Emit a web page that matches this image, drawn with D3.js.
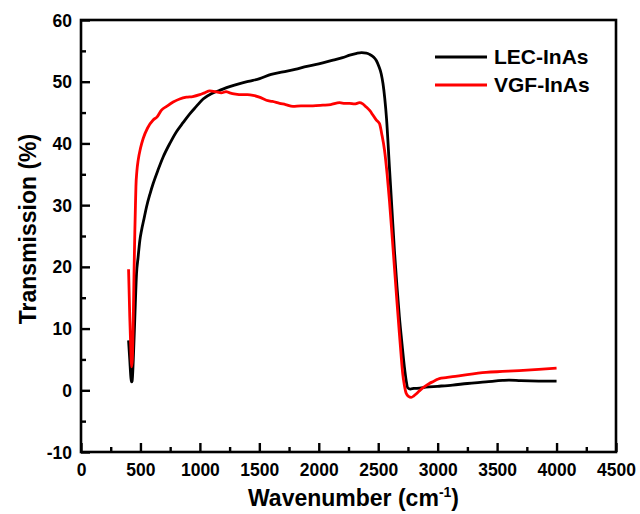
<!DOCTYPE html>
<html>
<head>
<meta charset="utf-8">
<script src="https://cdn.jsdelivr.net/npm/d3@7"></script>
<style>
  body { margin: 0; background: #fff; }
  svg text { font-family: "Liberation Sans", Arial, sans-serif; font-weight: bold; fill: #000; }
</style>
</head>
<body>
<svg id="chart"></svg>
<script>
// Series (wavenumber in cm-1, transmission in %)
var lecWn = [400, 410, 420, 425, 430, 440, 455, 467, 480, 495, 509, 530, 551, 580, 607, 650, 691, 750, 803, 860, 915, 970, 1027, 1100, 1167, 1250, 1335, 1420, 1503, 1600, 1700, 1800, 1900, 2000, 2120, 2200, 2260, 2320, 2360, 2400, 2430, 2460, 2485, 2505, 2525, 2540, 2555, 2570, 2594, 2615, 2636, 2657, 2678, 2700, 2720, 2735, 2748, 2770, 2800, 2850, 2900, 3000, 3126, 3250, 3406, 3546, 3600, 3700, 3850, 4000];
var lecT = [8.1, 5, 2, 1.35, 1.5, 5, 13, 18.9, 21.5, 24.3, 25.9, 27.8, 29.7, 31.8, 33.5, 35.8, 37.8, 40.1, 41.9, 43.4, 44.8, 46.0, 47.2, 48.1, 48.6, 49.2, 49.7, 50.1, 50.5, 51.2, 51.6, 52.0, 52.5, 52.9, 53.5, 53.9, 54.3, 54.6, 54.7, 54.65, 54.4, 54.0, 53.4, 52.5, 51.3, 49.7, 47.3, 44.0, 36.2, 29.5, 22.7, 17.0, 11.9, 7.5, 3.8, 1.6, 0.4, 0.2, 0.3, 0.35, 0.5, 0.65, 0.85, 1.1, 1.35, 1.6, 1.65, 1.55, 1.5, 1.5];

var vgfWn = [400, 410, 420, 425, 432, 440, 447, 453, 458, 462, 470, 481, 500, 523, 560, 607, 640, 677, 720, 775, 830, 887, 940, 999, 1040, 1083, 1130, 1180, 1220, 1251, 1300, 1350, 1400, 1447, 1500, 1559, 1610, 1671, 1720, 1783, 1850, 1950, 2035, 2100, 2175, 2220, 2259, 2300, 2343, 2370, 2399, 2430, 2455, 2483, 2511, 2530, 2553, 2575, 2594, 2615, 2636, 2657, 2678, 2692, 2706, 2720, 2735, 2755, 2777, 2800, 2818, 2846, 2870, 2902, 2930, 2960, 2986, 3014, 3070, 3126, 3250, 3406, 3546, 3686, 3850, 4000];
var vgfT = [19.6, 12, 6, 3.8, 5, 12, 20, 25.9, 30, 33, 35.5, 37.3, 39.2, 40.8, 42.5, 43.8, 44.3, 45.4, 46.0, 46.7, 47.2, 47.5, 47.6, 47.9, 48.2, 48.5, 48.4, 48.2, 48.4, 48.2, 48.0, 47.9, 47.9, 47.8, 47.5, 47.0, 46.8, 46.5, 46.3, 46.0, 46.1, 46.1, 46.2, 46.3, 46.6, 46.5, 46.5, 46.4, 46.6, 46.4, 45.9, 45.3, 44.6, 43.8, 43.2, 41.5, 38.9, 35.0, 30.8, 25.5, 20.0, 14.5, 9.2, 5.8, 2.7, 0.8, -0.5, -1.0, -1.15, -0.9, -0.6, -0.1, 0.3, 0.75, 1.1, 1.4, 1.65, 1.9, 2.05, 2.2, 2.55, 2.9, 3.05, 3.2, 3.4, 3.6];

var seriesNames = ["LEC-InAs", "VGF-InAs"];
var seriesColors = ["#000000", "#ff0000"];
var xTicks = [0, 500, 1000, 1500, 2000, 2500, 3000, 3500, 4000, 4500];
var yTicks = [-10, 0, 10, 20, 30, 40, 50, 60];

var margin = {top: 20, right: 24, bottom: 62, left: 81};
var width = 640 - margin.left - margin.right;
var height = 514 - margin.top - margin.bottom;

var svg = d3.select("#chart")
    .attr("width", 640)
    .attr("height", 514)
  .append("g")
    .attr("transform", "translate(" + margin.left + "," + margin.top + ")");

var x = d3.scaleLinear().domain([0, 4500]).range([0, width]);
var y = d3.scaleLinear().domain([-10, 60]).range([height, 0]);

// plain hyphen for negatives, like the original
var plain = function(d) { return String(d); };

// minor ticks first, then major ticks with labels (all pointing inward)
var xMinor = d3.range(250, 4500, 500);
var yMinor = d3.range(-5, 60, 10);

svg.append("g")
    .attr("transform", "translate(0," + height + ")")
    .call(d3.axisTop(x).tickValues(xMinor).tickSize(5).tickFormat(""))
    .call(function(g) { g.select(".domain").remove(); })
    .selectAll("line").attr("stroke-width", 2.4);

svg.append("g")
    .call(d3.axisRight(y).tickValues(yMinor).tickSize(5).tickFormat(""))
    .call(function(g) { g.select(".domain").remove(); })
    .selectAll("line").attr("stroke-width", 2.4);

var xAxis = svg.append("g")
    .attr("transform", "translate(0," + height + ")")
    .call(d3.axisTop(x).tickValues(xTicks).tickSize(9).tickFormat(plain));
xAxis.select(".domain").remove();
xAxis.selectAll("line").attr("stroke-width", 2.4);
xAxis.selectAll("text")
    .attr("y", 24)
    .attr("dy", 0)
    .attr("font-size", "17.5px");

var yAxis = svg.append("g")
    .call(d3.axisRight(y).tickValues(yTicks).tickSize(9).tickFormat(plain));
yAxis.select(".domain").remove();
yAxis.selectAll("line").attr("stroke-width", 2.4);
yAxis.selectAll("text")
    .attr("x", -9)
    .attr("dy", "0.35em")
    .attr("text-anchor", "end")
    .attr("font-size", "17.5px");

// frame
svg.append("rect")
    .attr("width", width)
    .attr("height", height)
    .attr("fill", "none")
    .attr("stroke", "#000")
    .attr("stroke-width", 2.6);

// curves
var line = d3.line()
    .x(function(d) { return x(d[0]); })
    .y(function(d) { return y(d[1]); })
    .curve(d3.curveMonotoneX);

var lecData = d3.zip(lecWn, lecT);
var vgfData = d3.zip(vgfWn, vgfT);

[lecData, vgfData].forEach(function(data, i) {
  svg.append("path")
      .datum(data)
      .attr("fill", "none")
      .attr("stroke", seriesColors[i])
      .attr("stroke-width", 2.8)
      .attr("stroke-linejoin", "round")
      .attr("d", line);
});

// legend
var legend = svg.append("g")
    .attr("transform", "translate(" + (435 - margin.left) + "," + (57 - margin.top) + ")");

seriesNames.forEach(function(name, i) {
  legend.append("line")
      .attr("x1", 0).attr("x2", 52)
      .attr("y1", i * 28).attr("y2", i * 28)
      .attr("stroke", seriesColors[i])
      .attr("stroke-width", 2.8);
  legend.append("text")
      .attr("x", 59)
      .attr("y", i * 28 + 7)
      .attr("font-size", "21px")
      .text(name);
});

// axis titles
var xTitle = svg.append("text")
    .attr("x", width / 2 + 5)
    .attr("y", height + 54)
    .attr("text-anchor", "middle")
    .attr("font-size", "23px");
xTitle.append("tspan").text("Wavenumber (cm");
xTitle.append("tspan").attr("font-size", "14px").attr("dy", -9).text("-1");
xTitle.append("tspan").attr("dy", 9).text(")");

svg.append("text")
    .attr("transform", "translate(" + (36 - margin.left) + "," + (229 - margin.top) + ") rotate(-90)")
    .attr("text-anchor", "middle")
    .attr("font-size", "23px")
    .text("Transmission (%)");
</script>
</body>
</html>
